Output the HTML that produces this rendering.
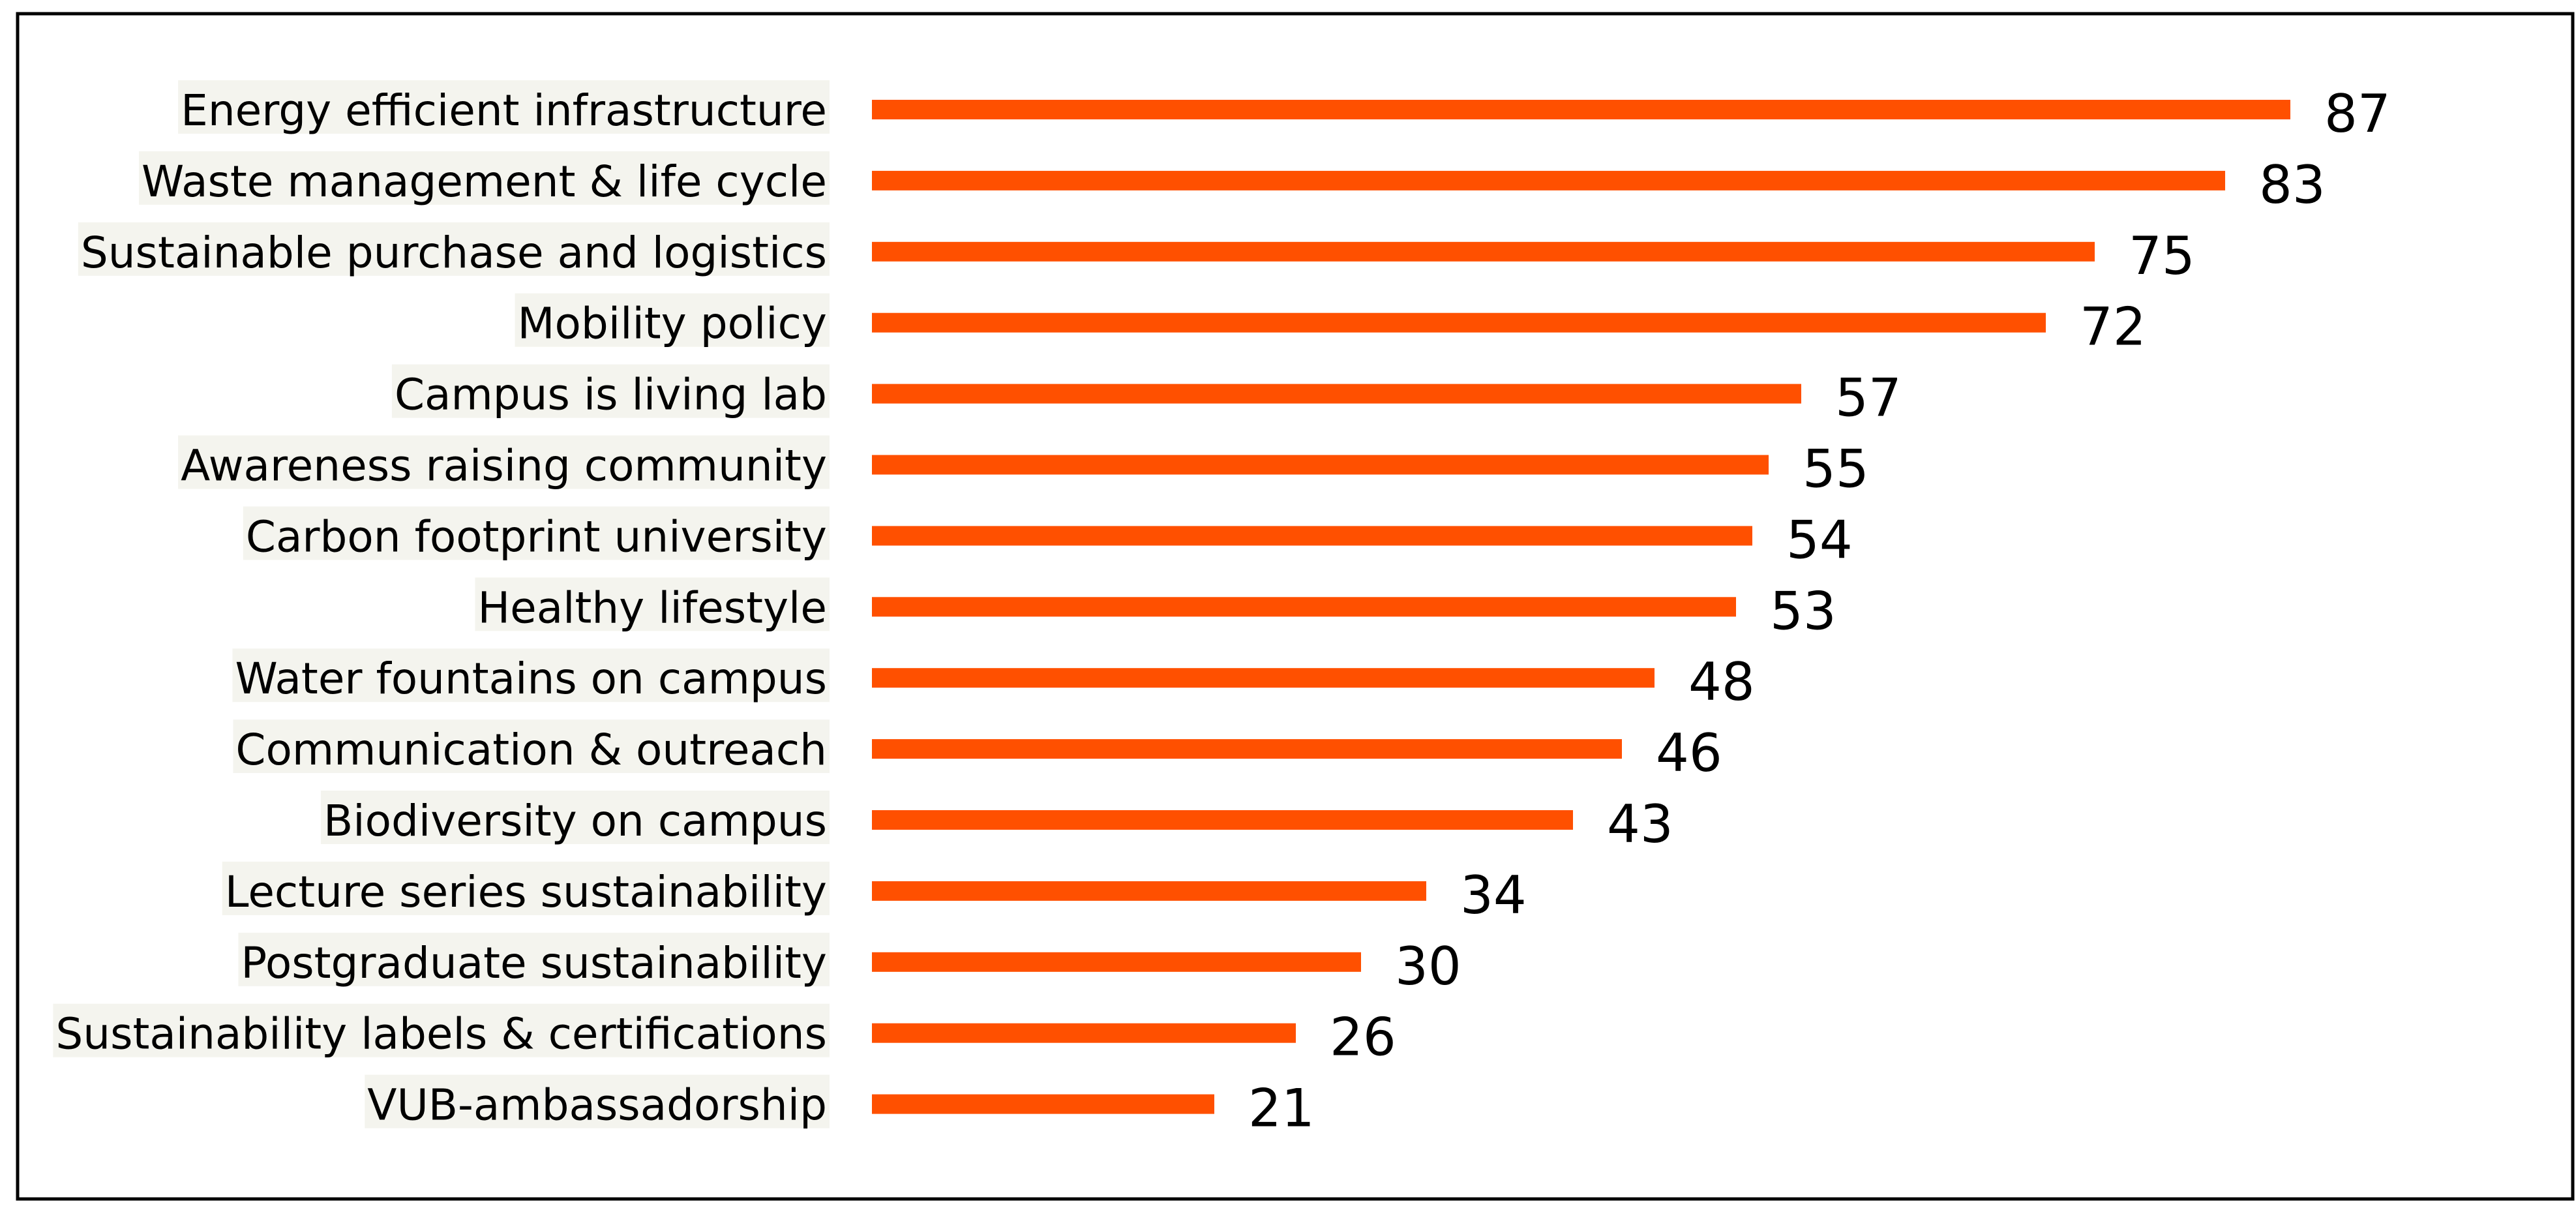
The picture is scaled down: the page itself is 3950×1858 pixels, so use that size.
<!DOCTYPE html>
<html><head><meta charset="utf-8"><style>
html,body{margin:0;padding:0;background:#fff;}
svg{display:block;}
</style></head><body>
<svg id="chart" width="3950" height="1858" viewBox="0 0 3950 1858" xmlns="http://www.w3.org/2000/svg">
<rect x="27" y="21" width="3918" height="1817" fill="none" stroke="#000" stroke-width="5"/>
<g id="labels"></g>
<g id="bars"></g>
<g id="values"></g>
</svg>
<script>
const categories = ["Energy efficient infrastructure","Waste management & life cycle","Sustainable purchase and logistics","Mobility policy","Campus is living lab","Awareness raising community","Carbon footprint university","Healthy lifestyle","Water fountains on campus","Communication & outreach","Biodiversity on campus","Lecture series sustainability","Postgraduate sustainability","Sustainability labels & certifications","VUB-ambassadorship"];
const values = [87,83,75,72,57,55,54,53,48,46,43,34,30,26,21];

const NS = "http://www.w3.org/2000/svg";
const x0 = 1337, pxPerUnit = 25.0;
const y0 = 168, rowStep = 108.9, barH = 30;
function xScale(v){ return x0 + v * pxPerUnit; }
function yScale(i){ return y0 + i * rowStep; }
const gL = document.getElementById('labels'), gB = document.getElementById('bars'), gV = document.getElementById('values');
categories.forEach((c, i) => {
  const cy = yScale(i);
  const bg = document.createElementNS(NS, 'rect');
  
  
  bg.setAttribute('fill', '#f4f4ee');
  gL.appendChild(bg);
  const t = document.createElementNS(NS, 'text');
  
  
  t.setAttribute('x', 1268);
  t.setAttribute('y', cy + 24);
  t.setAttribute('text-anchor', 'end');
  t.setAttribute('font-family', '"DejaVu Sans", "Liberation Sans", sans-serif');
  t.setAttribute('font-size', '66');
  t.setAttribute('fill', '#000');
  t.textContent = c;
  gL.appendChild(t);
  const bb = t.getBBox();
  bg.setAttribute('x', bb.x - 4);
  bg.setAttribute('width', bb.width + 8);
  bg.setAttribute('y', cy - 45);
  bg.setAttribute('height', 82);

  const r = document.createElementNS(NS, 'rect');
  
  
  r.setAttribute('x', xScale(0));
  r.setAttribute('y', cy - barH / 2);
  r.setAttribute('width', xScale(values[i]) - xScale(0));
  r.setAttribute('height', barH);
  r.setAttribute('fill', '#ff5000');
  gB.appendChild(r);

  const v = document.createElementNS(NS, 'text');
  
  
  v.setAttribute('x', xScale(values[i]) + 52);
  v.setAttribute('y', cy + 34);
  v.setAttribute('font-family', '"DejaVu Sans", "Liberation Sans", sans-serif');
  v.setAttribute('font-size', '80');
  v.setAttribute('fill', '#000');
  v.textContent = values[i];
  gV.appendChild(v);
});
</script>
</body></html>
